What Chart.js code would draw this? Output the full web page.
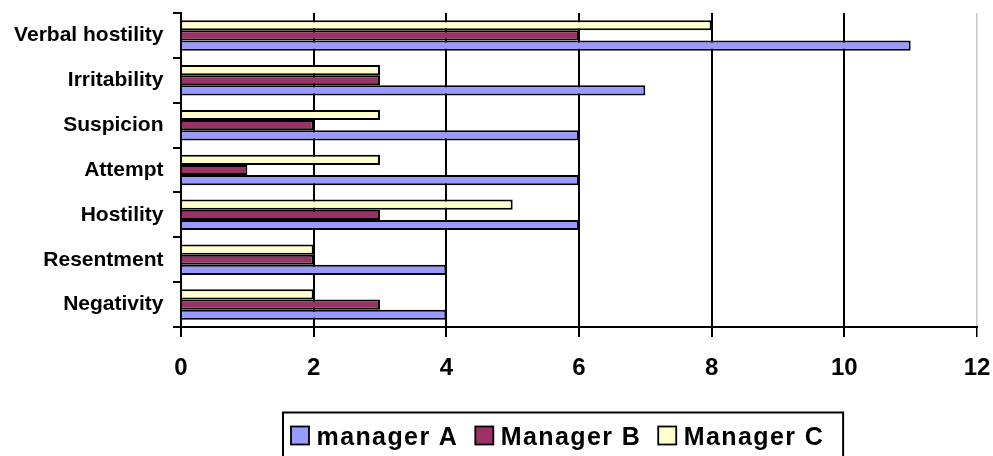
<!DOCTYPE html>
<html><head><meta charset="utf-8">
<script src="https://cdn.jsdelivr.net/npm/chart.js@4.4.1/dist/chart.umd.min.js"></script>
<style>html,body{margin:0;padding:0;background:#fff;} canvas{display:block;}</style>
</head><body>
<canvas id="c" width="993" height="456"></canvas>
<script>
const categories = ['Verbal hostility','Irritability','Suspicion','Attempt','Hostility','Resentment','Negativity'];
const managerA = [11, 7, 6, 6, 6, 4, 4];
const managerB = [6, 3, 2, 1, 3, 2, 3];
const managerC = [8, 3, 3, 3, 5, 2, 2];
const seriesNames = ['manager A', 'Manager B', 'Manager C'];
const seriesColors = ['#9999FF', '#993366', '#FFFFCC'];
const xTickValues = [0, 2, 4, 6, 8, 10, 12];

const FONT = '"Liberation Sans", Arial, Helvetica, sans-serif';

const boxedLegend = {
  id: 'boxedLegend',
  afterDraw(chart) {
    const ctx = chart.ctx;
    const items = chart.data.datasets.slice().reverse();
    ctx.save();
    ctx.font = 'bold 25px ' + FONT;
    try { ctx.letterSpacing = '1.4px'; } catch (e) {}
    const left = 283, top = 412.5, sq = 18, gapText = 7.5, gapItem = 17, padL = 8, padR = 19;
    const baseY = 444.5;
    let x = left + padL;
    items.forEach((ds, i) => {
      ctx.fillStyle = ds.backgroundColor;
      ctx.fillRect(x, baseY - sq, sq, sq);
      ctx.strokeStyle = '#000';
      ctx.lineWidth = 1.8;
      ctx.strokeRect(x, baseY - sq, sq, sq);
      x += sq + gapText;
      ctx.fillStyle = '#000';
      ctx.textBaseline = 'alphabetic';
      ctx.textAlign = 'left';
      ctx.fillText(ds.label, x, baseY);
      x += ctx.measureText(ds.label).width;
      if (i < items.length - 1) x += gapItem;
    });
    const right = x + padR;
    ctx.lineWidth = 2;
    ctx.strokeStyle = '#000';
    ctx.strokeRect(left, top, right - left, 60);
    ctx.restore();
  }
};

const datasets = [
  {label: seriesNames[2], data: managerC, backgroundColor: seriesColors[2]},
  {label: seriesNames[1], data: managerB, backgroundColor: seriesColors[1]},
  {label: seriesNames[0], data: managerA, backgroundColor: seriesColors[0]}
].map(d => Object.assign(d, {borderColor: '#000', borderWidth: 2, categoryPercentage: 0.68, barPercentage: 1}));

new Chart(document.getElementById('c'), {
  type: 'bar',
  data: {labels: categories, datasets},
  options: {
    indexAxis: 'y',
    responsive: false,
    animation: false,
    layout: {padding: {top: 13, right: 16, left: 0, bottom: 0}},
    plugins: {legend: {display: false}, tooltip: {enabled: false}},
    scales: {
      x: {
        min: xTickValues[0],
        max: xTickValues[xTickValues.length - 1],
        afterBuildTicks(s) { s.ticks = xTickValues.map(v => ({value: v})); },
        afterFit(s) { s.height = 129; s.paddingLeft = 0; s.paddingRight = 0; },
        grid: {
          color: c => (c.tick && c.tick.value === 12) ? '#c8c8c8' : '#000',
          lineWidth: c => (c.tick && c.tick.value === 12) ? 1.5 : 2,
          tickColor: '#000',
          tickLength: 10
        },
        border: {color: '#000', width: 2},
        ticks: {font: {family: FONT, size: 24, weight: 'bold'}, color: '#000', padding: 17}
      },
      y: {
        afterFit(s) { s.width = 181; s.paddingTop = 0; s.paddingBottom = 0; },
        grid: {offset: true, drawOnChartArea: false, color: '#000', lineWidth: 2, tickLength: 8},
        border: {color: '#000', width: 2},
        ticks: {font: {family: FONT, size: 21, weight: 'bold'}, color: '#000', padding: 9.5}
      }
    }
  },
  plugins: [boxedLegend]
});
</script>
</body></html>
